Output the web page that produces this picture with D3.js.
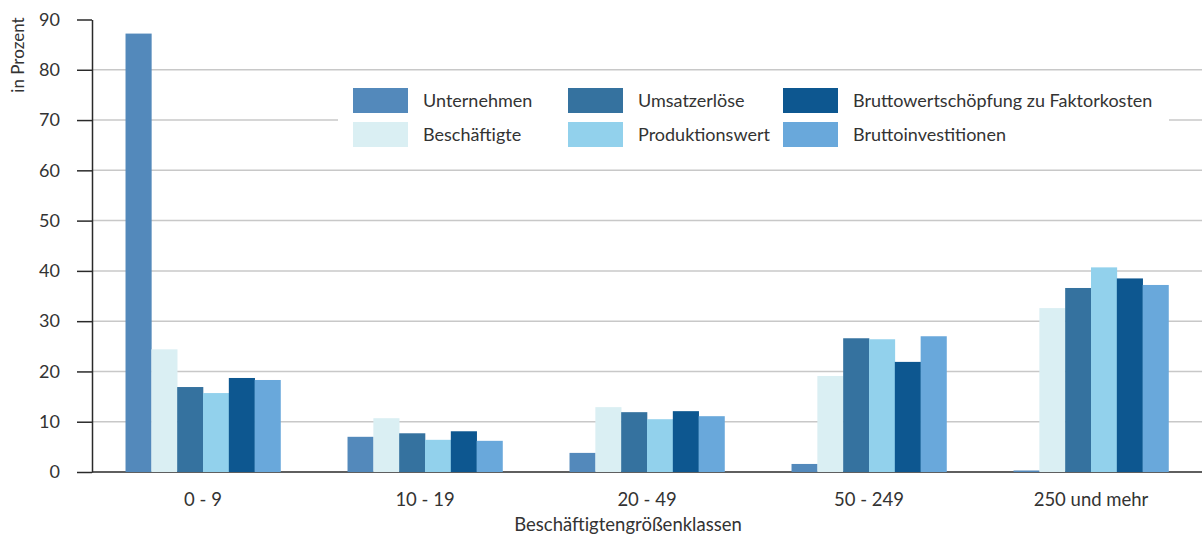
<!DOCTYPE html>
<html><head><meta charset="utf-8">
<script src="https://cdn.jsdelivr.net/npm/d3@7"></script>
<style>body{margin:0;background:#fff}svg{display:block;font-family:Lato,"Open Sans",sans-serif}</style>
</head><body><svg id="c" width="1202" height="538"></svg>
<script>
const categories = ["0 - 9","10 - 19","20 - 49","50 - 249","250 und mehr"];
const seriesNames = ["Unternehmen","Beschäftigte","Umsatzerlöse","Produktionswert","Bruttowertschöpfung zu Faktorkosten","Bruttoinvestitionen"];
const seriesColors = ["#5389bb","#daeff3","#35729f","#92d1ec","#0d5790","#69a8db"];
const unternehmen = [87.2, 7.0, 3.8, 1.6, 0.3];
const beschaeftigte = [24.4, 10.7, 12.9, 19.1, 32.6];
const umsatzerloese = [16.9, 7.7, 11.9, 26.6, 36.6];
const produktionswert = [15.7, 6.4, 10.5, 26.4, 40.7];
const bruttowertschoepfung = [18.7, 8.1, 12.1, 21.9, 38.5];
const bruttoinvestitionen = [18.3, 6.2, 11.1, 27.0, 37.2];
const yTicks = [0,10,20,30,40,50,60,70,80,90];
const seriesValues = [unternehmen, beschaeftigte, umsatzerloese, produktionswert, bruttowertschoepfung, bruttoinvestitionen];

const svg = d3.select("#c");
const mLeft = 92, mRight = 1202, mTop = 19.5, mBottom = 472;
const y = d3.scaleLinear().domain([0,90]).range([mBottom, mTop]);
const x0 = d3.scaleBand().domain(categories).range([mLeft, mRight]).paddingInner(0.302).paddingOuter(0.151);
const x1 = d3.scaleBand().domain(d3.range(seriesNames.length)).range([0, x0.bandwidth()]);

// gridlines
svg.append("g").selectAll("line").data(yTicks.filter(t => t > 0 && t < 90)).join("line")
  .attr("x1", mLeft).attr("x2", mRight).attr("y1", d => y(d)).attr("y2", d => y(d))
  .attr("stroke", "#c8c8c8").attr("stroke-width", 1.5);
// zero line
svg.append("line").attr("x1", mLeft).attr("x2", mRight).attr("y1", y(0)).attr("y2", y(0))
  .attr("stroke", "#2a2a2a").attr("stroke-width", 1.5);

// bars
const groups = svg.append("g").selectAll("g").data(categories).join("g")
  .attr("transform", c => `translate(${x0(c)},0)`);
groups.selectAll("rect").data((c, ci) => seriesValues.map((arr, si) => ({si, v: arr[ci]}))).join("rect")
  .attr("x", d => x1(d.si)).attr("width", x1.bandwidth() + 0.3)
  .attr("y", d => y(d.v)).attr("height", d => y(0) - y(d.v))
  .attr("fill", d => seriesColors[d.si]);

// y axis
const yAxis = svg.append("g").attr("transform", `translate(${mLeft},0)`)
  .call(d3.axisLeft(y).tickValues(yTicks).tickSize(15).tickPadding(17).tickSizeOuter(0));
yAxis.select(".domain").attr("stroke", "#2a2a2a").attr("stroke-width", 1.5);
yAxis.selectAll(".tick line").attr("stroke", "#2a2a2a").attr("stroke-width", 1.5);
yAxis.selectAll(".tick text").attr("font-size", 18).attr("fill", "#333").attr("font-family", "Lato, sans-serif");

// x axis labels
const xAxis = svg.append("g").attr("transform", `translate(0,${mBottom})`)
  .call(d3.axisBottom(x0).tickSize(0).tickPadding(21));
xAxis.select(".domain").remove();
xAxis.selectAll(".tick text").attr("font-size", 18.5).attr("fill", "#333").attr("font-family", "Lato, sans-serif");

// axis titles
svg.append("text").attr("x", 628).attr("y", 531).attr("text-anchor", "middle")
  .attr("font-size", 18.5).attr("fill", "#333").text("Beschäftigtengrößenklassen");
svg.append("text").attr("transform", "translate(24,55) rotate(-90)").attr("text-anchor", "middle")
  .attr("font-size", 17).attr("fill", "#333").text("in Prozent");

// legend
const lg = svg.append("g");
lg.append("rect").attr("x", 338).attr("y", 80).attr("width", 831).attr("height", 74).attr("fill", "#fff");
const colX = [353, 568, 783];
const rowY = [88, 122];
const order = [0, 2, 4, 1, 3, 5];
order.forEach((si, k) => {
  const col = k % 3, row = Math.floor(k / 3);
  lg.append("rect").attr("x", colX[col]).attr("y", rowY[row]).attr("width", 55).attr("height", 25)
    .attr("fill", seriesColors[si]);
  lg.append("text").attr("x", colX[col] + 70).attr("y", rowY[row] + 19)
    .attr("font-size", 18).attr("fill", "#333").text(seriesNames[si]);
});
</script></body></html>
